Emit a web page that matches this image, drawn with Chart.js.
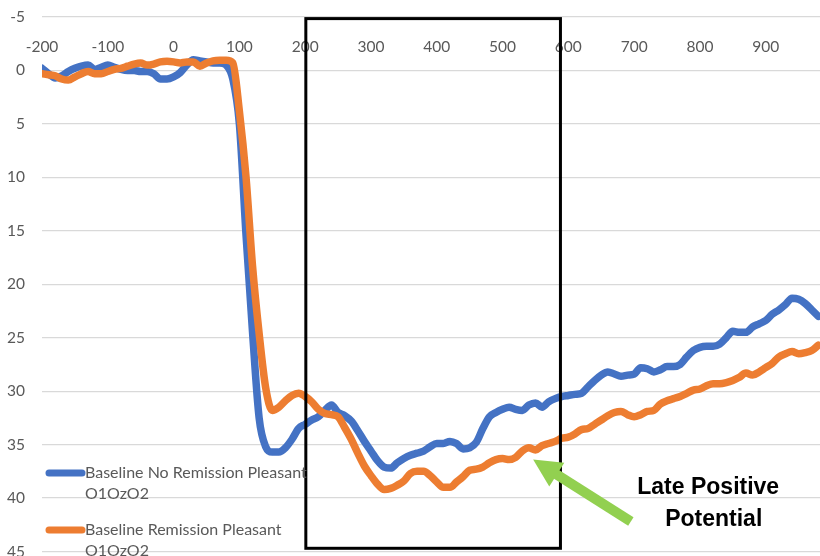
<!DOCTYPE html>
<html>
<head>
<meta charset="utf-8">
<script src="https://cdn.jsdelivr.net/npm/chart.js@4"></script>
<style>
  body { margin: 0; background: #fff; overflow: hidden; }
</style>
</head>
<body>
<canvas id="erpChart" width="820" height="556"></canvas>
<script>
// time in ms, amplitude (axis is reversed)
var times = [-200, -190, -180, -170, -160, -150, -140, -130, -120, -110,
             -100, -90, -80, -70, -60, -50, -40, -30, -20, -10,
             0, 10, 20, 30, 40, 50, 60, 70, 80, 90,
             100, 110, 120, 130, 140, 150, 160, 170, 180, 190,
             200, 210, 220, 230, 240, 250, 260, 270, 280, 290,
             300, 310, 320, 330, 340, 350, 360, 370, 380, 390,
             400, 410, 420, 430, 440, 450, 460, 470, 480, 490,
             500, 510, 520, 530, 540, 550, 560, 570, 580, 590,
             600, 610, 620, 630, 640, 650, 660, 670, 680, 690,
             700, 710, 720, 730, 740, 750, 760, 770, 780, 790,
             800, 810, 820, 830, 840, 850, 860, 870, 880, 890,
             900, 910, 920, 930, 940, 950, 960, 970, 980];

var noRemission = [-0.2, 0.3, 0.7, 0.5, 0.1, -0.2, -0.4, -0.5, -0.1, -0.3,
                   -0.5, -0.3, -0.1, 0.0, 0.0, 0.1, 0.1, 0.3, 0.8, 0.8,
                   0.6, 0.2, -0.5, -1.0, -0.9, -0.8, -0.7, -0.7, -0.5, 0.8,
                   5.0, 15.3, 24.5, 32.5, 35.2, 35.7, 35.7, 35.3, 34.5, 33.5,
                   33.1, 32.7, 32.4, 31.8, 31.3, 32.0, 32.3, 32.8, 33.7, 34.7,
                   35.6, 36.5, 37.1, 37.2, 36.7, 36.3, 36.0, 35.8, 35.6, 35.2,
                   34.9, 34.9, 34.7, 34.9, 35.4, 35.3, 34.8, 33.5, 32.4, 32.0,
                   31.7, 31.5, 31.7, 31.8, 31.3, 31.1, 31.5, 31.0, 30.7, 30.5,
                   30.4, 30.3, 30.2, 29.6, 29.0, 28.5, 28.2, 28.4, 28.6, 28.5,
                   28.4, 27.8, 27.9, 28.2, 28.0, 27.7, 27.7, 27.5, 26.8, 26.2,
                   25.9, 25.8, 25.8, 25.6, 25.0, 24.4, 24.5, 24.5, 24.0, 23.7,
                   23.4, 22.8, 22.4, 21.9, 21.3, 21.4, 21.8, 22.4, 23.0];

var remission = [0.3, 0.4, 0.5, 0.8, 0.9, 0.6, 0.3, 0.1, 0.3, 0.3,
                 0.1, -0.1, -0.2, -0.4, -0.6, -0.7, -0.5, -0.6, -0.8, -0.85,
                 -0.8, -0.7, -0.8, -0.8, -0.4, -0.7, -0.9, -0.95, -0.95, -0.7,
                 3.8, 9.9, 18.3, 24.6, 29.7, 31.8, 31.5, 30.9, 30.4, 30.2,
                 30.5, 31.0, 31.7, 32.1, 32.2, 32.4, 33.4, 34.5, 35.8, 37.0,
                 37.9, 38.7, 39.2, 39.1, 38.8, 38.4, 37.7, 37.5, 37.5, 37.9,
                 38.5, 39.0, 39.0, 38.5, 38.0, 37.4, 37.3, 37.1, 36.7, 36.4,
                 36.3, 36.4, 36.2, 35.6, 35.3, 35.5, 35.1, 34.9, 34.7, 34.4,
                 34.3, 34.0, 33.6, 33.5, 33.1, 32.7, 32.3, 32.0, 31.9, 32.2,
                 32.4, 32.2, 31.9, 31.8, 31.2, 30.9, 30.7, 30.5, 30.2, 29.9,
                 29.8, 29.5, 29.3, 29.3, 29.2, 29.0, 28.7, 28.3, 28.5, 28.2,
                 27.8, 27.4, 26.8, 26.5, 26.3, 26.5, 26.4, 26.2, 25.7];

var seriesNames = [["Baseline No Remission Pleasant", "O1OzO2"],
                   ["Baseline Remission Pleasant", "O1OzO2"]];
var seriesColors = ["#4472C4", "#ED7D31"];

var xTicks = [-200, -100, 0, 100, 200, 300, 400, 500, 600, 700, 800, 900];
var yTicks = [-5, 0, 5, 10, 15, 20, 25, 30, 35, 40, 45];

// LPP window box (ms / amplitude) and callout
var lppWindow = [201, 588];
var lppSpan = [-4.85, 44.7];
var arrowFrom = [695, 42.2];
var arrowTo = [546.5, 36.4];
var calloutLines = ["Late Positive", "Potential"];
var calloutAt = [[812.6, 39.0], [821, 42.0]];

function pts(vals) {
  return times.map(function(t, i) { return { x: t, y: vals[i] }; });
}

var grey = "#595959";
var lblFont = { family: "Lato", size: 15.5 };

var overlay = {
  id: "overlay",
  afterDatasetsDraw: function(chart) {
    var ctx = chart.ctx, xs = chart.scales.x, ys = chart.scales.y;
    var area = chart.chartArea;
    ctx.save();

    // box round the LPP window
    var bx0 = xs.getPixelForValue(lppWindow[0]), bx1 = xs.getPixelForValue(lppWindow[1]);
    var by0 = ys.getPixelForValue(lppSpan[0]), by1 = ys.getPixelForValue(lppSpan[1]);
    ctx.strokeStyle = "#000";
    ctx.lineWidth = 3;
    ctx.strokeRect(bx0, by0, bx1 - bx0, by1 - by0);

    // green arrow
    var tx = xs.getPixelForValue(arrowFrom[0]), ty = ys.getPixelForValue(arrowFrom[1]);
    var hx = xs.getPixelForValue(arrowTo[0]), hy = ys.getPixelForValue(arrowTo[1]);
    var dx = hx - tx, dy = hy - ty, len = Math.sqrt(dx * dx + dy * dy);
    var ux = dx / len, uy = dy / len, nx = -uy, ny = ux;
    var headL = 28, headW = 14;
    var baseX = hx - ux * headL, baseY = hy - uy * headL;
    ctx.strokeStyle = "#92D050";
    ctx.fillStyle = "#92D050";
    ctx.lineWidth = 10;
    ctx.lineCap = "butt";
    ctx.beginPath();
    ctx.moveTo(tx, ty);
    ctx.lineTo(baseX + ux * 2, baseY + uy * 2);
    ctx.stroke();
    ctx.beginPath();
    ctx.moveTo(hx, hy);
    ctx.lineTo(baseX + nx * headW, baseY + ny * headW);
    ctx.lineTo(baseX - nx * headW, baseY - ny * headW);
    ctx.closePath();
    ctx.fill();

    // callout text
    ctx.fillStyle = "#000";
    ctx.font = "bold 23px 'Liberation Sans', Arial, sans-serif";
    ctx.textAlign = "center";
    ctx.textBaseline = "middle";
    calloutLines.forEach(function(line, i) {
      ctx.fillText(line, xs.getPixelForValue(calloutAt[i][0]), ys.getPixelForValue(calloutAt[i][1]));
    });

    // legend, bottom left inside the plot
    ctx.font = "16px Lato, sans-serif";
    ctx.textAlign = "left";
    ctx.fillStyle = grey;
    ctx.lineCap = "round";
    ctx.lineWidth = 7;
    var rows = [area.bottom - 78.5, area.bottom - 21.5];
    seriesNames.forEach(function(lines, i) {
      var yy = rows[i];
      ctx.strokeStyle = seriesColors[i];
      ctx.beginPath();
      ctx.moveTo(area.left + 7, yy);
      ctx.lineTo(area.left + 40, yy);
      ctx.stroke();
      ctx.fillText(lines[0], area.left + 43, yy);
      ctx.fillText(lines[1], area.left + 43, yy + 21);
    });
    ctx.restore();
  }
};

new Chart(document.getElementById("erpChart"), {
  type: "line",
  data: {
    datasets: [{
      label: seriesNames[0].join(" "),
      data: pts(noRemission),
      borderColor: seriesColors[0],
      order: 1
    }, {
      label: seriesNames[1].join(" "),
      data: pts(remission),
      borderColor: seriesColors[1],
      order: 0
    }]
  },
  options: {
    responsive: false,
    animation: false,
    layout: { padding: { left: 0, right: 0, top: 17, bottom: 4.5 } },
    elements: {
      point: { radius: 0 },
      line: { borderWidth: 7.5, cubicInterpolationMode: "monotone", borderCapStyle: "round", borderJoinStyle: "round" }
    },
    plugins: { legend: { display: false }, tooltip: { enabled: false } },
    scales: {
      x: {
        type: "linear",
        position: { y: -5 },
        min: -200,
        max: 982.5,
        afterBuildTicks: function(s) { s.ticks = xTicks.map(function(v) { return { value: v }; }); },
        afterFit: function(s) { s.paddingLeft = 0; s.paddingRight = 0; },
        grid: { display: false, drawTicks: false },
        border: { display: false },
        ticks: { color: grey, font: lblFont, padding: 21, maxRotation: 0, autoSkip: false }
      },
      y: {
        reverse: true,
        min: -5,
        max: 45,
        afterBuildTicks: function(s) { s.ticks = yTicks.map(function(v) { return { value: v }; }); },
        afterFit: function(s) { s.width = 42; s.paddingTop = 0; s.paddingBottom = 0; },
        grid: { color: "#D9D9D9", lineWidth: 1.3, drawTicks: false },
        border: { display: false },
        ticks: { color: grey, font: lblFont, padding: 17 }
      }
    }
  },
  plugins: [overlay]
});
</script>
</body>
</html>
